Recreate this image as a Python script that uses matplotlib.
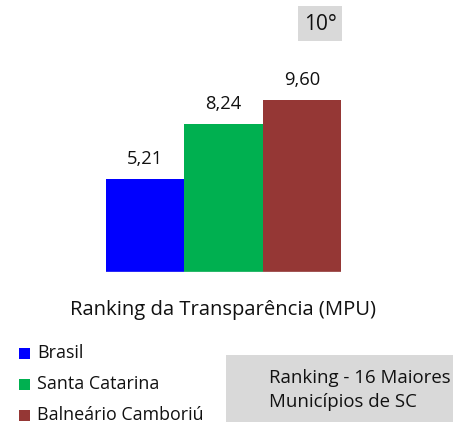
import matplotlib
matplotlib.use("Agg")
import matplotlib.pyplot as plt
from matplotlib.patches import Rectangle

plt.rcParams['font.family'] = ['Open Sans', 'DejaVu Sans']

categories = ["Brasil", "Santa Catarina", "Balneário Camboriú"]
values = [5.21, 8.24, 9.60]
colors = ["#0000ff", "#00b050", "#953735"]
value_labels = ["5,21", "8,24", "9,60"]
title = "Ranking da Transparência (MPU)"
rank_label = "10°"
note = "Ranking - 16 Maiores\nMunicípios de SC"

W, H = 453, 424
fig = plt.figure(figsize=(W / 100, H / 100), dpi=100)

def fx(px):
    return px / W

def fy(py):
    return 1 - py / H

# axes: left 106, right 341, baseline 272, top 0
ax = fig.add_axes([fx(106), fy(272), fx(341) - fx(106), 272 / H])
x = list(range(len(values)))
ax.bar(x, values, width=1.0, color=colors, edgecolor='none')
ax.set_xlim(-0.5, len(values) - 0.5)
ax.set_ylim(0, 272 / 17.92)
ax.axis('off')
ax.axhline(0, color='#d9d9d9', lw=1)
for xi, v, lab in zip(x, values, value_labels):
    ax.annotate(lab, (xi, v), xytext=(0, 20), textcoords='offset pixels',
                ha='center', va='center', fontsize=13.2, color='#111111')

# rank box
fig.patches.append(Rectangle((fx(298), fy(41)), fx(342) - fx(298), (41 - 6) / H,
                             transform=fig.transFigure, facecolor='#d9d9d9', edgecolor='none'))
fig.text(fx(320), fy(24), rank_label, ha='center', va='center', fontsize=15, color='#111111')

# title
fig.text(fx(223), fy(310), title, ha='center', va='center', fontsize=14.6, color='#111111')

# legend
leg_y = [353, 384, 415]
for yy, c, cat in zip(leg_y, colors, categories):
    fig.patches.append(Rectangle((fx(19), fy(yy + 5.5)), fx(11), 11 / H,
                                 transform=fig.transFigure, facecolor=c, edgecolor='none'))
    fig.text(fx(37), fy(yy), cat, ha='left', va='center', fontsize=12.9, color='#111111')

# note box
fig.patches.append(Rectangle((fx(226), fy(422)), fx(453) - fx(226), (422 - 355) / H,
                             transform=fig.transFigure, facecolor='#d9d9d9', edgecolor='none'))
fig.text(fx(269), fy(390), note, ha='left', va='center', fontsize=13.4,
         color='#111111', linespacing=1.4)

fig.savefig("out.png", dpi=100)
